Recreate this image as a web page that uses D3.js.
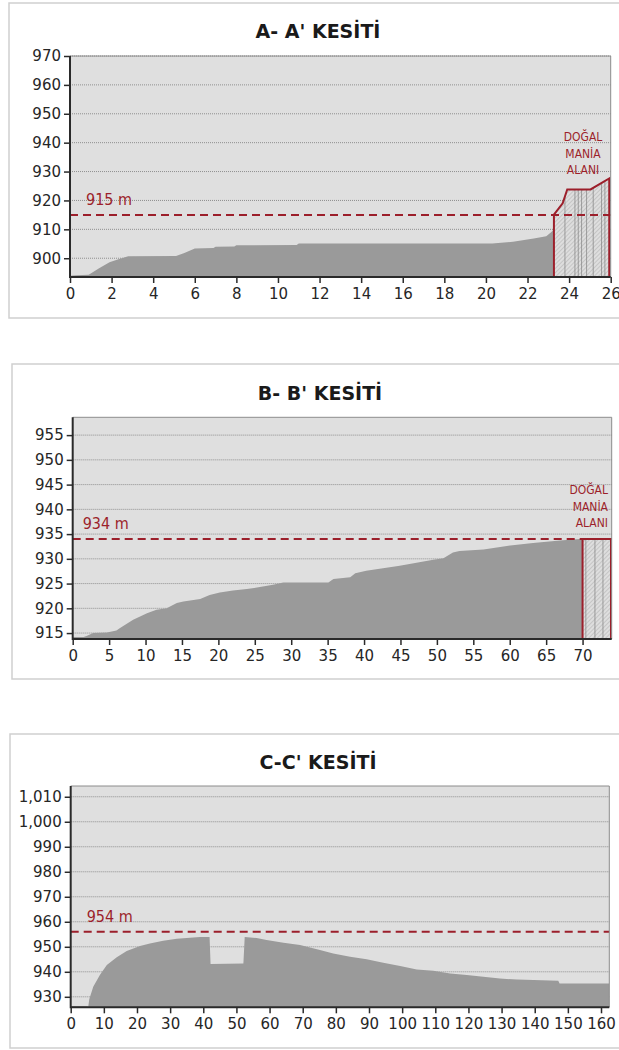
<!DOCTYPE html>
<html>
<head>
<meta charset="utf-8">
<script src="https://cdn.jsdelivr.net/npm/d3@7/dist/d3.min.js"></script>
<style>
  body { margin: 0; background: #fff; }
  svg { display: block; }
</style>
</head>
<body>
<svg id="chart" width="619" height="1050"></svg>
<script>
// ---- A-A' kesiti ----
const aTitle = "A- A' KESİTİ";
const aDist = [0, 0.3, 0.9, 1.4, 1.9, 2.4, 2.8, 5.1, 5.5, 6.0, 6.9, 7.0, 7.9, 8.0, 10.9, 11.0, 20.3, 21.3, 22.3, 22.9, 23.15, 23.3];
const aElev = [893.9, 894.1, 894.3, 896.5, 898.6, 899.8, 900.7, 900.8, 901.8, 903.4, 903.5, 904.0, 904.1, 904.5, 904.6, 905.1, 905.1, 905.7, 906.8, 907.6, 909.1, 910.3];
const aManiaDist = [23.27, 23.69, 23.91, 25.03, 25.93];
const aManiaElev = [915.1, 919.0, 923.8, 923.8, 927.6];
const aManiaLines = [23.8, 24.28, 24.44, 24.6, 24.84, 25.16, 25.56, 25.72];
const aLimit = 915;
const aLimitLabel = '915 m';
const aYTicks = [900, 910, 920, 930, 940, 950, 960, 970];
const aXTicks = [0, 2, 4, 6, 8, 10, 12, 14, 16, 18, 20, 22, 24, 26];

// ---- B-B' kesiti ----
const bTitle = "B- B' KESİTİ";
const bDist = [0, 1.5, 1.9, 2.8, 4.7, 6.0, 6.5, 8.3, 10.2, 11.5, 12.9, 14.3, 15.2, 17.5, 18.8, 20.2, 22.0, 23.9, 25.7, 27.5, 28.9, 35.1, 35.8, 38.1, 38.8, 40.3, 42.6, 44.9, 47.2, 49.5, 50.9, 52.2, 53.1, 56.4, 59.6, 63.2, 66.9, 69.6, 70];
const bElev = [914.2, 914.2, 914.4, 915.0, 915.1, 915.5, 916.0, 917.7, 919.0, 919.7, 920.0, 921.1, 921.4, 921.9, 922.7, 923.2, 923.6, 923.9, 924.3, 924.75, 925.2, 925.2, 925.9, 926.3, 927.1, 927.6, 928.1, 928.6, 929.2, 929.8, 930.1, 931.3, 931.6, 931.9, 932.6, 933.2, 933.7, 934.0, 934.0];
const bManiaDist = [70, 73.9];
const bManiaElev = [934, 934];
const bManiaLines = [70.45, 71.7, 72.8];
const bLimit = 934;
const bLimitLabel = '934 m';
const bYTicks = [915, 920, 925, 930, 935, 940, 945, 950, 955];
const bXTicks = [0, 5, 10, 15, 20, 25, 30, 35, 40, 45, 50, 55, 60, 65, 70];

// ---- C-C' kesiti ----
const cTitle = "C-C' KESİTİ";
const cDist = [0, 5.0, 5.3, 5.6, 6.8, 8.8, 10.9, 13.9, 16.9, 20.9, 23.9, 27.9, 32, 39, 41.9, 42.2, 52.1, 52.5, 56.1, 59.1, 64.2, 69.2, 75.2, 79.2, 84.3, 89.3, 94.3, 99.4, 104.4, 109.4, 114.5, 119.5, 124.5, 129.5, 134.6, 139.6, 147.1, 147.5, 162.5];
const cElev = [926.3, 926.2, 926.0, 929.0, 934.0, 938.7, 942.7, 945.8, 948.3, 950.3, 951.3, 952.4, 953.2, 953.9, 953.9, 943.1, 943.3, 953.9, 953.5, 952.7, 951.6, 950.7, 948.7, 947.3, 946.0, 945.0, 943.6, 942.3, 940.9, 940.4, 939.3, 938.7, 938.0, 937.3, 936.9, 936.7, 936.4, 935.3, 935.3];
const cLimit = 956;
const cLimitLabel = '954 m';
const cYTicks = [930, 940, 950, 960, 970, 980, 990, 1000, 1010];
const cXTicks = [0, 10, 20, 30, 40, 50, 60, 70, 80, 90, 100, 110, 120, 130, 140, 150, 160];

const maniaText = ['DOĞAL', 'MANİA', 'ALANI'];

const red = '#9c1f2b';
const svg = d3.select('#chart');

// hatch pattern for the mania area
const defs = svg.append('defs');
const pat = defs.append('pattern')
    .attr('id', 'hatch')
    .attr('patternUnits', 'userSpaceOnUse')
    .attr('width', 3).attr('height', 3)
    .attr('patternTransform', 'rotate(45)');
pat.append('rect').attr('width', 3).attr('height', 3).attr('fill', '#dedede');
pat.append('line').attr('x1', 0).attr('y1', 0).attr('x2', 0).attr('y2', 3)
    .attr('stroke', '#b0b0b0').attr('stroke-width', 1.1);

function drawSection(cfg, idx) {
    const p = cfg.plot;
    const g = svg.append('g').attr('class', 'section');

    // panel frame
    g.append('rect')
        .attr('x', cfg.frame[0]).attr('y', cfg.frame[1])
        .attr('width', 640).attr('height', cfg.frame[2])
        .attr('fill', '#fff').attr('stroke', '#cfcfcf').attr('stroke-width', 1.5);

    g.append('text')
        .attr('x', cfg.titleX).attr('y', cfg.titleY)
        .attr('text-anchor', 'middle')
        .attr('font-family', 'DejaVu Sans, sans-serif')
        .attr('font-weight', 'bold')
        .attr('font-size', '19px')
        .attr('fill', '#1a1a1a')
        .text(cfg.title);

    const x = d3.scaleLinear().domain(cfg.xDomain).range([p.left, p.right]);
    const y = d3.scaleLinear().domain(cfg.yDomain).range([p.bottom, p.top]);

    const clipId = 'clip' + idx;
    defs.append('clipPath').attr('id', clipId)
        .append('rect').attr('x', p.left).attr('y', p.top)
        .attr('width', p.right - p.left).attr('height', p.bottom - p.top);

    // plot background
    g.append('rect')
        .attr('x', p.left).attr('y', p.top)
        .attr('width', p.right - p.left).attr('height', p.bottom - p.top)
        .attr('fill', '#dfdfdf');

    // grid
    g.selectAll('.grid').data(cfg.yTicks).enter().append('line')
        .attr('class', 'grid')
        .attr('x1', p.left).attr('x2', p.right)
        .attr('y1', d => y(d)).attr('y2', d => y(d))
        .attr('stroke', '#8f8f8f').attr('stroke-width', 1)
        .attr('stroke-dasharray', '1,1');

    const plotG = g.append('g').attr('clip-path', `url(#${clipId})`);

    // terrain
    const pts = cfg.dist.map((d, i) => [d, cfg.elev[i]]);
    const area = d3.area()
        .x(d => x(d[0]))
        .y0(y(cfg.yDomain[0]))
        .y1(d => y(d[1]));
    plotG.append('path')
        .attr('d', area(pts))
        .attr('fill', '#9a9a9a');

    // mania area
    if (cfg.maniaDist) {
        const mp = cfg.maniaDist.map((d, i) => [d, cfg.maniaElev[i]]);
        plotG.append('path')
            .attr('d', area(mp))
            .attr('fill', 'url(#hatch)');
        const mLine = d3.line().x(d => x(d[0])).y(d => y(d[1]));
        const lo = cfg.yDomain[0];
        const outline = [[mp[0][0], lo]].concat(mp, [[mp[mp.length - 1][0], lo], [mp[0][0], lo]]);
        const mClip = 'mclip' + idx;
        defs.append('clipPath').attr('id', mClip).append('path').attr('d', mLine(outline));
        // vertical strokes inside the hatch
        plotG.append('g').attr('clip-path', `url(#${mClip})`)
            .selectAll('line').data(cfg.maniaLines).enter().append('line')
            .attr('x1', d => x(d)).attr('x2', d => x(d))
            .attr('y1', y(lo))
            .attr('y2', y(d3.max(mp, q => q[1])))
            .attr('stroke', '#8a8a8a').attr('stroke-width', 0.8);
        plotG.append('path')
            .attr('d', mLine(outline))
            .attr('fill', 'none')
            .attr('stroke', red)
            .attr('stroke-width', 2)
            .attr('stroke-linejoin', 'miter');

        g.selectAll('.mtext').data(maniaText).enter().append('text')
            .attr('class', 'mtext')
            .attr('x', cfg.maniaLabel[0])
            .attr('y', (d, i) => cfg.maniaLabel[1] + (i - 2) * 16.5)
            .attr('text-anchor', cfg.maniaLabel[2])
            .attr('font-family', 'DejaVu Sans Condensed, DejaVu Sans, sans-serif')
            .attr('font-size', '12px')
            .attr('fill', red)
            .text(d => d);
    }

    // limit line
    g.append('line')
        .attr('x1', p.left).attr('x2', p.right)
        .attr('y1', y(cfg.limit)).attr('y2', y(cfg.limit))
        .attr('stroke', red).attr('stroke-width', 2)
        .attr('stroke-dasharray', '8,5');
    g.append('text')
        .attr('x', p.left + cfg.limitDx).attr('y', y(cfg.limit) - 10)
        .attr('font-family', 'DejaVu Sans Condensed, DejaVu Sans, sans-serif')
        .attr('font-size', '16px')
        .attr('fill', red)
        .text(cfg.limitLabel);

    // plot border (top/right)
    g.append('path')
        .attr('d', `M${p.left},${p.top}H${p.right}V${p.bottom}`)
        .attr('fill', 'none').attr('stroke', '#8c8c8c').attr('stroke-width', 1);

    // axes
    const yAxis = d3.axisLeft(y).tickValues(cfg.yTicks).tickSize(6).tickPadding(3)
        .tickFormat(cfg.yFormat || d3.format('d'));
    const xAxis = d3.axisBottom(x).tickValues(cfg.xTicks).tickSize(6).tickPadding(5)
        .tickFormat(d3.format('d'));

    const ya = g.append('g').attr('transform', `translate(${p.left},0)`).call(yAxis);
    const xa = g.append('g').attr('transform', `translate(0,${p.bottom})`).call(xAxis);
    [ya, xa].forEach(a => {
        a.select('.domain').remove();
        a.selectAll('line').attr('stroke', '#2a2a2a').attr('stroke-width', 1.5);
        a.selectAll('text')
            .attr('font-family', 'DejaVu Sans, sans-serif')
            .attr('font-size', '15px')
            .attr('fill', '#262626');
    });
    g.append('path')
        .attr('d', `M${p.left},${p.top}V${p.bottom}H${p.right}`)
        .attr('fill', 'none').attr('stroke', '#2a2a2a').attr('stroke-width', 2);
}

drawSection({
    title: aTitle, titleX: 318, titleY: 38,
    frame: [9, 3, 315],
    plot: {left: 70, top: 56, right: 610.7, bottom: 277},
    xDomain: [0, 26], yDomain: [893.5, 970],
    dist: aDist, elev: aElev,
    maniaDist: aManiaDist, maniaElev: aManiaElev, maniaLines: aManiaLines,
    maniaLabel: [583, 174, 'middle'],
    limit: aLimit, limitLabel: aLimitLabel, limitDx: 16,
    yTicks: aYTicks, xTicks: aXTicks
}, 0);

drawSection({
    title: bTitle, titleX: 320, titleY: 400,
    frame: [12, 364, 315],
    plot: {left: 72.7, top: 417.3, right: 611.7, bottom: 639},
    xDomain: [0, 74], yDomain: [913.8, 958.6],
    dist: bDist, elev: bElev,
    maniaDist: bManiaDist, maniaElev: bManiaElev, maniaLines: bManiaLines,
    maniaLabel: [608, 527, 'end'],
    limit: bLimit, limitLabel: bLimitLabel, limitDx: 10,
    yTicks: bYTicks, xTicks: bXTicks
}, 1);

drawSection({
    title: cTitle, titleX: 318, titleY: 769,
    frame: [10, 734, 314],
    plot: {left: 70.7, top: 786, right: 609.3, bottom: 1007.3},
    xDomain: [0, 162.5], yDomain: [925.8, 1014.3],
    dist: cDist, elev: cElev,
    limit: cLimit, limitLabel: cLimitLabel, limitDx: 16,
    yTicks: cYTicks, xTicks: cXTicks, yFormat: d3.format(',')
}, 2);
</script>
</body>
</html>
